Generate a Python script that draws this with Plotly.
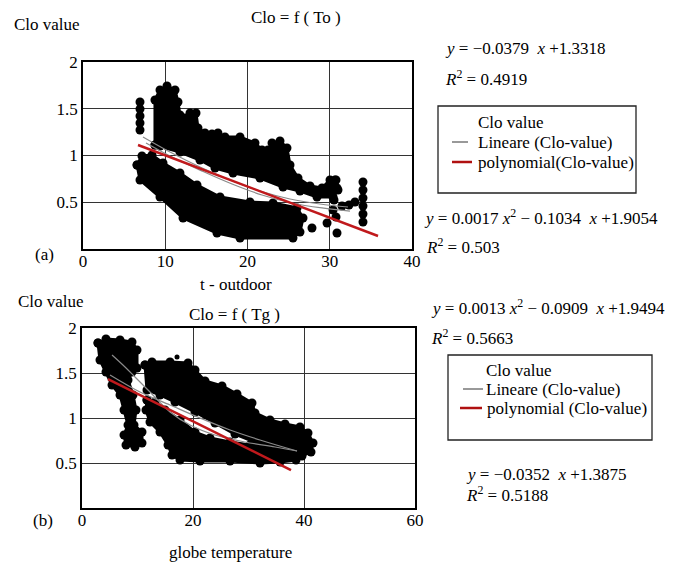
import plotly.graph_objects as go

# ---------------- Panel (a): Clo = f(To) ----------------
a_upper_x = [8.75, 8.75, 9.36, 10.21, 11.19, 11.55, 11.79, 12.40, 12.52, 13.01, 13.74, 13.98, 14.83, 15.68, 16.41,
             17.26, 19.09, 20.91, 21.76, 22.49, 22.98, 23.95, 24.80, 25.17, 26.14, 27.60, 29.06, 30.03, 30.76, 31.00,
             30.40, 28.45, 26.38, 24.32, 21.52, 18.24, 16.05, 14.22, 11.79, 9.36]
a_upper_y = [1.112, 1.594, 1.700, 1.743, 1.700, 1.572, 1.433, 1.401, 1.326, 1.455, 1.455, 1.294, 1.241, 1.230, 1.241,
             1.198, 1.198, 1.134, 1.059, 1.059, 1.134, 1.155, 1.080, 0.898, 0.759, 0.674, 0.652, 0.738, 0.738, 0.631,
             0.556, 0.556, 0.620, 0.663, 0.759, 0.813, 0.866, 0.952, 1.037, 1.102]

a_lower_x = [6.57, 7.17, 8.39, 9.73, 11.79, 13.86, 16.66, 20.30, 23.10, 26.02, 26.75, 26.38, 25.53, 19.09, 16.29,
             12.16, 9.36, 6.93]
a_lower_y = [0.898, 0.995, 1.005, 0.920, 0.813, 0.684, 0.556, 0.503, 0.492, 0.439, 0.332, 0.182, 0.118, 0.118, 0.171,
             0.332, 0.556, 0.738]

a_dots_x = [6.93, 6.93, 6.93, 6.93, 6.93,
            27.84, 29.67, 30.88,
            30.64, 30.88, 30.52, 30.40, 30.76, 31.49, 32.34, 33.07,
            34.04, 34.04, 34.04, 34.04, 34.04, 34.04]
a_dots_y = [1.572, 1.497, 1.422, 1.348, 1.273,
            0.225, 0.278, 0.171,
            0.738, 0.652, 0.524, 0.417, 0.342, 0.460, 0.471, 0.503,
            0.717, 0.631, 0.545, 0.460, 0.374, 0.289]

a_red_x = [6.69, 35.87]
a_red_y = [1.112, 0.139]
a_gray1_x = [7.29, 10.58, 14.22, 17.87, 21.52, 25.17, 28.81, 32.22]
a_gray1_y = [1.198, 1.037, 0.877, 0.738, 0.620, 0.535, 0.481, 0.449]
a_gray2_x = [7.66, 10.82, 14.47, 18.12, 21.76, 25.41, 29.06, 32.46]
a_gray2_y = [1.134, 0.984, 0.834, 0.695, 0.578, 0.492, 0.439, 0.406]

# ---------------- Panel (b): Clo = f(Tg) ----------------
b_left_x = [2.88, 4.32, 6.85, 9.01, 9.91, 9.91, 9.01, 8.29, 9.19, 9.73, 9.37, 10.81, 10.81, 9.55, 7.93, 7.57,
            8.29, 7.57, 6.85, 5.41, 4.32, 3.24]
b_left_y = [1.833, 1.878, 1.867, 1.844, 1.756, 1.556, 1.511, 1.422, 1.256, 1.089, 0.922, 0.844, 0.722, 0.678, 0.700,
            0.811, 0.922, 1.089, 1.256, 1.367, 1.511, 1.644]

b_upper_x = [11.35, 12.61, 15.86, 19.10, 20.36, 22.16, 25.23, 27.93, 30.63, 31.17, 33.87, 36.58, 39.28, 40.72,
             41.62, 41.26, 39.64, 37.84, 34.77, 31.17, 27.57, 23.96, 20.36, 16.76, 14.05, 11.71]
b_upper_y = [1.589, 1.622, 1.622, 1.611, 1.533, 1.411, 1.356, 1.267, 1.167, 1.056, 0.978, 0.933, 0.900, 0.833,
             0.722, 0.622, 0.578, 0.622, 0.667, 0.733, 0.822, 0.944, 1.067, 1.178, 1.256, 1.311]

b_lower_x = [11.71, 13.15, 14.95, 17.66, 20.36, 23.06, 26.67, 30.27, 33.87, 37.48, 38.92, 38.56, 35.68, 32.07,
             26.67, 21.26, 17.66, 16.22, 15.50, 14.05, 12.25, 11.53]
b_lower_y = [1.200, 1.178, 1.089, 0.978, 0.844, 0.778, 0.733, 0.700, 0.700, 0.678, 0.622, 0.533, 0.511, 0.500,
             0.522, 0.522, 0.533, 0.589, 0.700, 0.844, 0.956, 1.089]

b_dots_x = [17.12]
b_dots_y = [1.678]

b_red_x = [4.68, 37.66]
b_red_y = [1.433, 0.422]
b_gray1_x = [5.41, 7.75, 9.55, 12.25, 15.86, 19.46, 23.96, 29.37, 34.77, 38.74]
b_gray1_y = [1.700, 1.567, 1.456, 1.289, 1.067, 0.922, 0.811, 0.733, 0.678, 0.633]
b_gray2_x = [5.05, 10.45, 15.86, 21.26, 26.67, 32.07, 38.74]
b_gray2_y = [1.478, 1.289, 1.144, 1.000, 0.867, 0.756, 0.633]

y_ticks = [0.5, 1, 1.5, 2]
y_tick_text = ["0.5", "1", "1.5", "2"]
a_x_ticks = [0, 10, 20, 30, 40]
b_x_ticks = [0, 20, 40, 60]

# page body has an 8px margin; figure starts at (8, 8) in the window
OFF = 8
W, H = 678 - OFF, 563 - OFF
SERIF = "Liberation Serif, Times New Roman, serif"


def fx(px):
    return (px - OFF) / W


def fy(py):
    return 1 - (py - OFF) / H


fig = go.Figure()


def blob(xs, ys, xa, ya):
    fig.add_trace(go.Scatter(
        x=xs + xs[:1], y=ys + ys[:1], mode="lines+markers", fill="toself",
        fillcolor="black", line=dict(color="black", width=3),
        marker=dict(color="black", size=9), xaxis=xa, yaxis=ya,
        showlegend=False, hoverinfo="skip"))


def dots(xs, ys, xa, ya, size=9):
    fig.add_trace(go.Scatter(
        x=xs, y=ys, mode="markers", marker=dict(color="black", size=size),
        xaxis=xa, yaxis=ya, showlegend=False, hoverinfo="skip"))


def line(xs, ys, xa, ya, color, width, name):
    fig.add_trace(go.Scatter(
        x=xs, y=ys, mode="lines", line=dict(color=color, width=width, shape="spline"),
        xaxis=xa, yaxis=ya, name=name, showlegend=False, hoverinfo="skip"))


# panel a
blob(a_upper_x, a_upper_y, "x", "y")
blob(a_lower_x, a_lower_y, "x", "y")
dots(a_dots_x, a_dots_y, "x", "y")
line(a_gray1_x, a_gray1_y, "x", "y", "#8a8a8a", 1.2, "Lineare (Clo-value)")
line(a_gray2_x, a_gray2_y, "x", "y", "#8a8a8a", 1.2, "Lineare (Clo-value)")
line(a_red_x, a_red_y, "x", "y", "#c0191c", 2.5, "polynomial(Clo-value)")

# panel b
blob(b_left_x, b_left_y, "x2", "y2")
blob(b_upper_x, b_upper_y, "x2", "y2")
blob(b_lower_x, b_lower_y, "x2", "y2")
dots(b_dots_x, b_dots_y, "x2", "y2", size=5)
line(b_gray1_x, b_gray1_y, "x2", "y2", "#8a8a8a", 1.2, "Lineare (Clo-value)")
line(b_gray2_x, b_gray2_y, "x2", "y2", "#8a8a8a", 1.2, "Lineare (Clo-value)")
line(b_red_x, b_red_y, "x2", "y2", "#c0191c", 2.5, "polynomial (Clo-value)")

axis_common = dict(showline=True, linecolor="black", linewidth=1.5, mirror=True,
                   showgrid=True, gridcolor="#333333", gridwidth=1.2, zeroline=False,
                   ticks="", automargin=False,
                   tickfont=dict(family=SERIF, size=17, color="black"))

fig.update_layout(
    width=W, height=H, margin=dict(l=0, r=0, t=0, b=0),
    paper_bgcolor="white", plot_bgcolor="white", showlegend=False,
    xaxis=dict(axis_common, domain=[fx(83), fx(412)], range=[0, 40], tickvals=a_x_ticks,
               ticklabelstandoff=-4, anchor="y"),
    yaxis=dict(axis_common, domain=[fy(249), fy(62)], range=[0, 2],
               tickvals=y_ticks, ticktext=y_tick_text, anchor="x"),
    xaxis2=dict(axis_common, domain=[fx(82), fx(415)], range=[0, 60], tickvals=b_x_ticks,
                ticklabelstandoff=-4, anchor="y2"),
    yaxis2=dict(axis_common, domain=[fy(508), fy(328)], range=[0, 2],
                tickvals=y_ticks, ticktext=y_tick_text, anchor="x2"),
)


def txt(text, px, py, anchor="left", size=17):
    fig.add_annotation(text=text, x=fx(px), y=fy(py), xref="paper", yref="paper",
                       xanchor=anchor, yanchor="middle", showarrow=False,
                       font=dict(family=SERIF, size=size, color="black"))


# panel a texts
txt("Clo value", 12, 24)
txt("Clo = f ( To )", 296, 17, "center")
txt("(a)", 44, 254, "center")
txt("t - outdoor", 236, 284, "center")
txt("<i>y</i> = −0.0379  <i>x</i> +1.3318", 443, 48)
txt("<i>R</i><sup>2</sup> = 0.4919", 443, 78)
txt("<i>y</i> = 0.0017 <i>x</i><sup>2</sup> − 0.1034  <i>x</i> +1.9054", 422, 217)
txt("<i>R</i><sup>2</sup> = 0.503", 424, 246)

# panel b texts
txt("Clo value", 16, 301)
txt("Clo = f ( Tg )", 234, 314, "center")
txt("(b)", 43, 520, "center")
txt("globe temperature", 230, 552, "center")
txt("<i>y</i> = 0.0013 <i>x</i><sup>2</sup> − 0.0909  <i>x</i> +1.9494", 429, 307)
txt("<i>R</i><sup>2</sup> = 0.5663", 429, 337)
txt("<i>y</i> = −0.0352  <i>x</i> +1.3875", 464, 474)
txt("<i>R</i><sup>2</sup> = 0.5188", 464, 494)


# legend boxes
def box(x0, y0, x1, y1):
    fig.add_shape(type="rect", xref="paper", yref="paper", x0=fx(x0), x1=fx(x1),
                  y0=fy(y1), y1=fy(y0), line=dict(color="#222222", width=1.3),
                  fillcolor="rgba(0,0,0,0)")


def seg(x0, x1, y, color, width):
    fig.add_shape(type="line", xref="paper", yref="paper", x0=fx(x0), x1=fx(x1),
                  y0=fy(y), y1=fy(y), line=dict(color=color, width=width))


box(438, 106, 636, 193)
txt("Clo value", 476, 122)
txt("Lineare (Clo-value)", 476, 142)
txt("polynomial(Clo-value)", 476, 162)
seg(452, 468, 142, "#555555", 1.2)
seg(452, 472, 162, "#b01010", 2.5)

box(448, 355, 652, 440)
txt("Clo value", 484, 370)
txt("Lineare (Clo-value)", 484, 389)
txt("polynomial (Clo-value)", 485, 408)
seg(463, 483, 389, "#555555", 1.2)
seg(460, 482, 408, "#b01010", 2.5)

fig.write_html("out.html")
